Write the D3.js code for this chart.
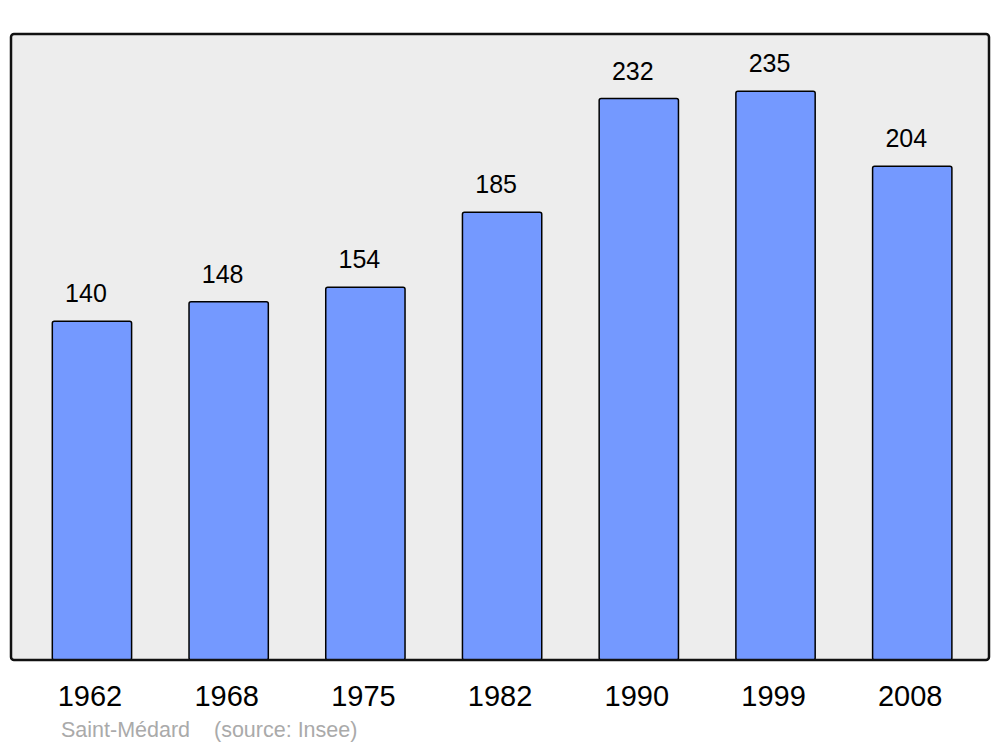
<!DOCTYPE html>
<html lang="fr"><head>
<meta charset="utf-8"/>
<title>Saint-Médard</title>
<script src="https://d3js.org/d3.v7.min.js"></script>
<style>
  body { margin: 0; padding: 0; background: #fff; width: 1000px; height: 747px; }
  text { font-family: 'Liberation Sans', Arial, sans-serif; }
</style>
</head>
<body>
<div id="chart"></div>
<script>
  // Population data (Insee)
  const years = ["1962", "1968", "1975", "1982", "1990", "1999", "2008"];
  const population = [140, 148, 154, 185, 232, 235, 204];
  const place = "Saint-Médard";
  const source = "(source: Insee)";

  const W = 1000, H = 747;
  const plot = {left: 11, top: 34, right: 989, bottom: 660};

  const svg = d3.select("#chart").append("svg")
      .attr("width", W).attr("height", H);

  const x = d3.scaleBand()
      .domain(years)
      .range([23.6, 980.6])
      .paddingInner(0.42)
      .paddingOuter(0.21);

  const y = d3.scaleLinear()
      .domain([0, 258.7])
      .range([plot.bottom, plot.top]);

  // background
  svg.append("rect")
      .attr("x", plot.left).attr("y", plot.top)
      .attr("width", plot.right - plot.left).attr("height", plot.bottom - plot.top)
      .attr("fill", "#ededed");

  const data = years.map((yr, i) => ({year: yr, value: population[i]}));

  // bars
  svg.selectAll(".bar")
      .data(data)
      .enter().append("rect")
      .attr("class", "bar")
      .attr("x", d => x(d.year))
      .attr("y", d => y(d.value))
      .attr("width", x.bandwidth())
      .attr("height", d => y(0) - y(d.value))
      .attr("rx", 2).attr("ry", 2)
      .attr("fill", "#7499ff")
      .attr("stroke", "#000")
      .attr("stroke-width", 1.5);

  // value labels
  svg.selectAll(".val")
      .data(data)
      .enter().append("text")
      .attr("class", "val")
      .attr("x", d => x(d.year) + x.bandwidth() / 2 - 6)
      .attr("y", d => y(d.value) - 19)
      .attr("text-anchor", "middle")
      .style("font-size", "25px")
      .attr("fill", "#000")
      .text(d => d.value);

  // frame
  svg.append("rect")
      .attr("x", plot.left).attr("y", plot.top)
      .attr("width", plot.right - plot.left).attr("height", plot.bottom - plot.top)
      .attr("rx", 3).attr("ry", 3)
      .attr("fill", "none")
      .attr("stroke", "#111")
      .attr("stroke-width", 2.5);

  // year labels
  svg.selectAll(".yr")
      .data(years)
      .enter().append("text")
      .attr("class", "yr")
      .attr("x", d => x(d) + x.bandwidth() / 2 - 2)
      .attr("y", 706)
      .attr("text-anchor", "middle")
      .style("font-size", "29px")
      .attr("fill", "#000")
      .text(d => d);

  // footer
  svg.append("text")
      .attr("x", 61).attr("y", 737)
      .style("font-size", "21.5px")
      .attr("fill", "#aaaaaa")
      .text(place);
  svg.append("text")
      .attr("x", 214).attr("y", 737)
      .style("font-size", "21.5px")
      .attr("fill", "#aaaaaa")
      .text(source);
</script>
</body></html>
